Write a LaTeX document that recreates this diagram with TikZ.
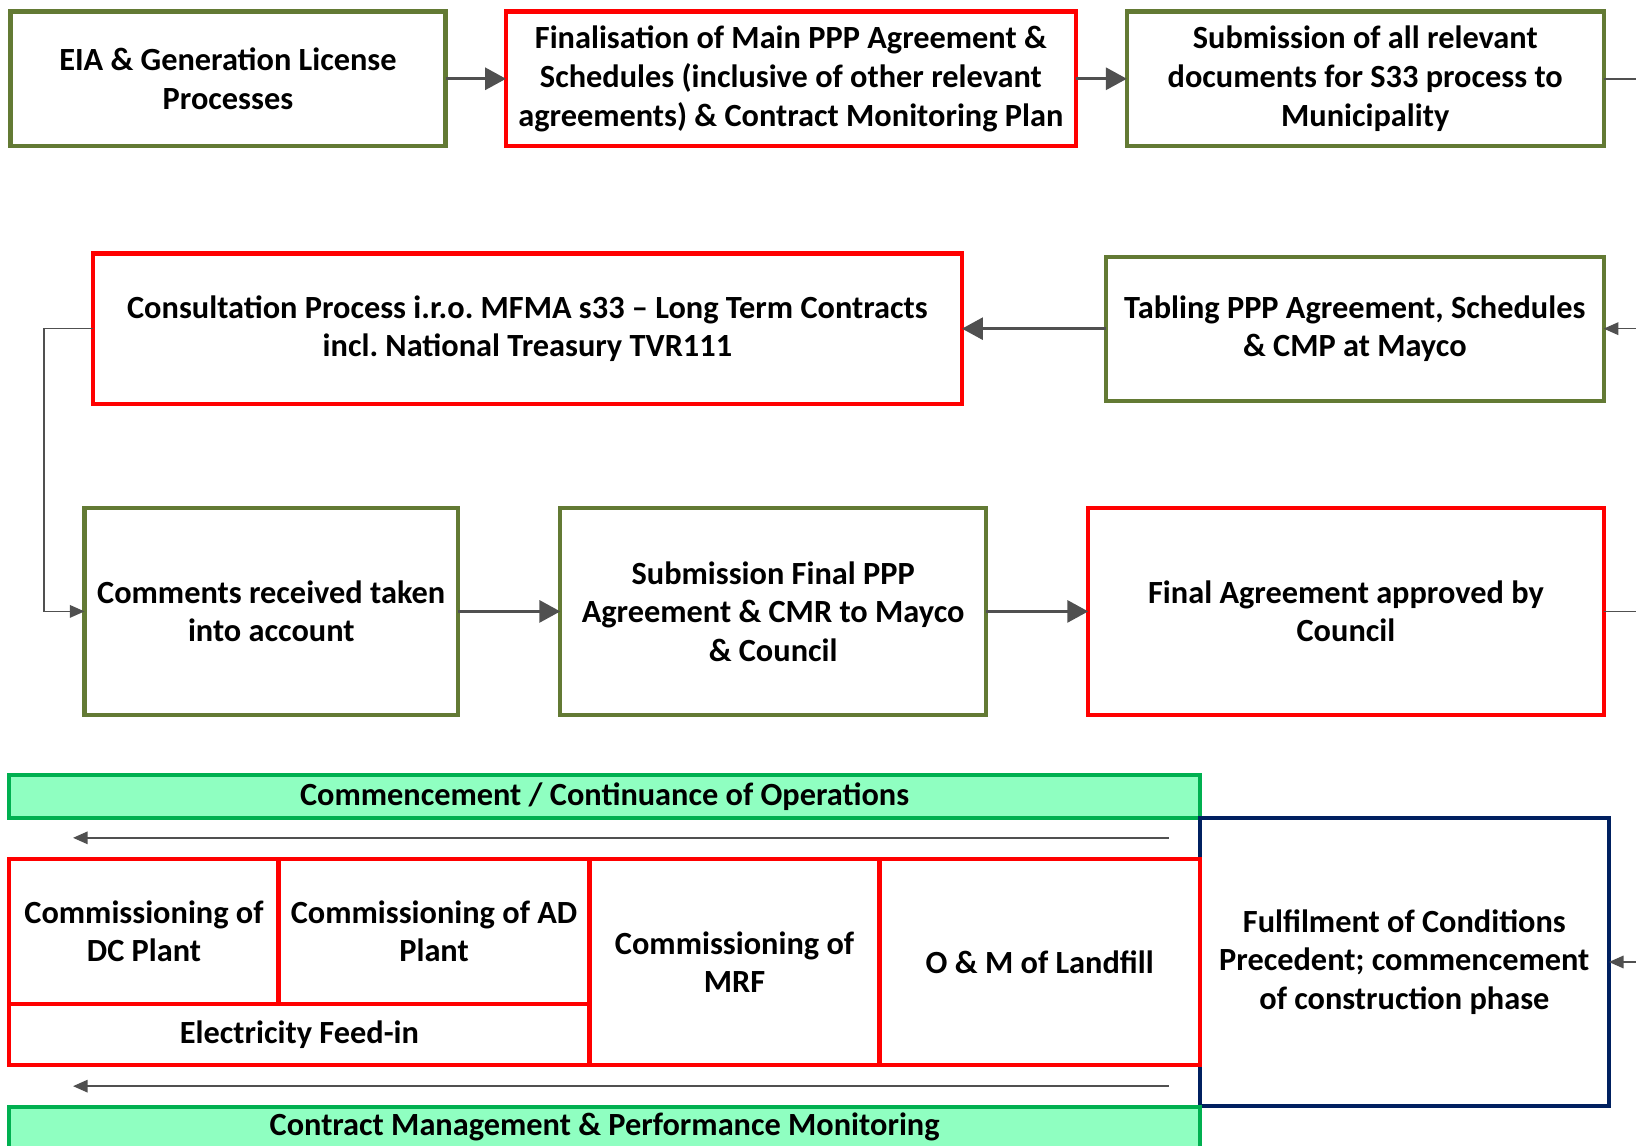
\documentclass[tikz,border=0pt]{standalone}
\usepackage{fontspec}
\setmainfont{Carlito}
\usetikzlibrary{arrows.meta}
\frenchspacing
\definecolor{olivebd}{RGB}{99,122,52}
\definecolor{redbd}{RGB}{255,0,0}
\definecolor{navybd}{RGB}{0,32,96}
\definecolor{barbd}{RGB}{0,176,80}
\definecolor{barfill}{RGB}{143,255,193}
\definecolor{linegray}{RGB}{80,80,80}
\tikzset{
  every node/.style={font=\fontsize{31}{37}\selectfont\bfseries, align=center, inner sep=0pt, outer sep=0pt},
  stagebox/.style={draw, line width=4pt, fill=white},
  olivebox/.style={stagebox, draw=olivebd},
  redbox/.style={stagebox, draw=redbd},
  navybox/.style={stagebox, draw=navybd},
  barbox/.style={draw=barbd, fill=barfill, line width=4pt},
  thickarrow/.style={draw=linegray, line width=3pt, -{Triangle[length=20pt,width=21pt]}},
  thinarrow/.style={draw=linegray, line width=1.5pt, -{Triangle[length=14pt,width=12pt]}},
  thinline/.style={draw=linegray, line width=1.5pt},
}
\begin{document}
\begin{tikzpicture}[x=1pt,y=-1pt]
\useasboundingbox (0,0) rectangle (1568,1098);
\fill[white] (0,0) rectangle (1568,1098);

% row 1
\node[olivebox, minimum width=417pt, minimum height=129pt] (eia) at (218.5,75.5) {EIA \& Generation License\\Processes};
\node[redbox, minimum width=546pt, minimum height=129pt] (fin) at (758,75.5) {Finalisation of Main PPP Agreement \&\\Schedules (inclusive of other relevant\\agreements) \& Contract Monitoring Plan};
\node[olivebox, minimum width=457pt, minimum height=129pt] (sub) at (1308.5,75.5) {Submission of all relevant\\documents for S33 process to\\Municipality};

% row 2
\node[redbox, minimum width=833pt, minimum height=144pt] (cons) at (505.5,315) {Consultation Process i.r.o. MFMA s33 -- Long Term Contracts\\incl. National Treasury TVR111};
\node[olivebox, minimum width=477pt, minimum height=138pt] (tab) at (1298.5,315) {Tabling PPP Agreement, Schedules\\\& CMP at Mayco};

% row 3
\node[olivebox, minimum width=358pt, minimum height=198pt] (comm) at (260,586) {Comments received taken\\into account};
\node[olivebox, minimum width=408pt, minimum height=198pt] (subfin) at (741,586) {Submission Final PPP\\Agreement \& CMR to Mayco\\\& Council};
\node[redbox, minimum width=494pt, minimum height=198pt] (appr) at (1290,586) {Final Agreement approved by\\Council};

% operations block
\node[barbox, minimum width=1141pt, minimum height=41pt] (ops) at (579.5,763.5) {Commencement / Continuance of Operations};
\node[navybox, minimum width=392pt, minimum height=276pt] (cp) at (1346,922) {Fulfilment of Conditions\\Precedent; commencement\\of construction phase};
\node[redbox, minimum width=258pt, minimum height=139pt] (dc) at (138,892.5) {Commissioning of\\DC Plant};
\node[redbox, minimum width=298pt, minimum height=139pt] (ad) at (416,892.5) {Commissioning of AD\\Plant};
\node[redbox, minimum width=556pt, minimum height=59pt] (elec) at (287,991.5) {Electricity Feed-in};
\node[redbox, minimum width=278pt, minimum height=198pt] (mrf) at (704,922) {Commissioning of\\MRF};
\node[redbox, minimum width=307pt, minimum height=198pt] (lf) at (996.5,922) {O \& M of Landfill};
\node[barbox, minimum width=1141pt, minimum height=43pt, anchor=north west] (cmon) at (9,1061) {};
\node (cmontext) at (579.5,1080) {Contract Management \& Performance Monitoring};

% free ends of the connectors
\coordinate (e1) at (1568,75.5);
\coordinate (e2) at (1568,315);
\coordinate (e3) at (1568,586);
\coordinate (e4) at (1568,922);
\coordinate (lc) at (42,315);
\coordinate (a1s) at (1120,803);
\coordinate (a1e) at (70,803);
\coordinate (a2s) at (1120,1041);
\coordinate (a2e) at (70,1041);

% connectors
\draw[thickarrow] (eia) -- (fin);
\draw[thickarrow] (fin) -- (sub);
\draw[thinline] (sub.east) -- (e1);
\draw[thinarrow] (e2) -- (tab.east);
\draw[thickarrow] (tab) -- (cons);
\draw[thinarrow] (cons.west) -- (lc) |- (comm.west);
\draw[thickarrow] (comm) -- (subfin);
\draw[thickarrow] (subfin) -- (appr);
\draw[thinline] (appr.east) -- (e3);
\draw[thinarrow] (e4) -- (cp.east);
\draw[thinarrow] (a1s) -- (a1e);
\draw[thinarrow] (a2s) -- (a2e);
\end{tikzpicture}
\end{document}
